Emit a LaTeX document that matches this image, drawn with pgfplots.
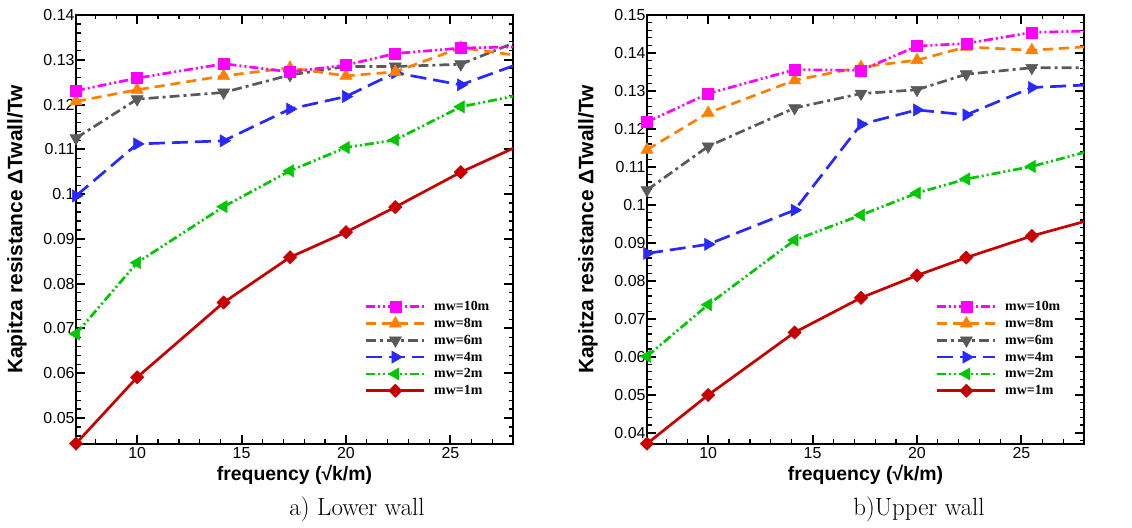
\documentclass[border=0pt]{standalone}
\usepackage{fontspec}
\usepackage{pgfplots}
\usepackage{pgfplotstable}
\pgfplotsset{compat=1.18}
\newfontfamily\arial{Liberation Sans}
\newfontfamily\tnr{Liberation Serif}

\definecolor{cmag}{RGB}{255,0,255}
\definecolor{corange}{RGB}{255,128,0}
\definecolor{cgray}{RGB}{90,90,90}
\definecolor{cblue}{RGB}{40,40,255}
\definecolor{cgreen}{RGB}{0,200,0}
\definecolor{cred}{RGB}{200,0,0}

% lower wall
\pgfplotstableread{
x     m1     m2     m4     m6     m8     m10
7.07  0.0443 0.0688 0.0996 0.1125 0.1207 0.1231
10    0.0591 0.0847 0.1112 0.1212 0.1233 0.1259
14.14 0.0758 0.0972 0.1119 0.1227 0.1264 0.1291
17.32 0.0859 0.1052 0.1190 0.1266 0.1282 0.1273
20    0.0915 0.1104 0.1218 0.1285 0.1264 0.1288
22.36 0.0971 0.1121 0.1271 0.1285 0.1273 0.1314
25.5  0.1049 0.1195 0.1244 0.1290 0.1327 0.1326
28.28 0.1108 0.1221 0.1291 0.1342 0.1309 0.1329
}\lowerwall

% upper wall
\pgfplotstableread{
x     m1     m2     m4     m6     m8     m10
7.07  0.0371 0.0601 0.0872 0.1039 0.1145 0.1218
10    0.0499 0.0737 0.0896 0.1154 0.1242 0.1293
14.14 0.0664 0.0907 0.0986 0.1255 0.1328 0.1356
17.32 0.0755 0.0973 0.1212 0.1293 0.1363 0.1354
20    0.0814 0.1031 0.1250 0.1303 0.1381 0.1418
22.36 0.0861 0.1068 0.1237 0.1344 0.1416 0.1425
25.5  0.0918 0.1101 0.1309 0.1361 0.1407 0.1454
28.28 0.0960 0.1142 0.1316 0.1361 0.1417 0.1458
}\upperwall

\pgfplotsset{
  kap/.style={
    scale only axis, width=437bp, height=429bp,
    xmin=7.07, xmax=28,
    xtick={10,15,20,25}, minor xtick={8,...,28},
    xtick pos=both, ytick pos=both, ticklabel pos=left,
    tick align=inside,
    major tick length=9bp, minor tick length=4.5bp,
    major tick style={black, line width=2bp},
    minor tick style={black, line width=1.2bp},
    axis line style={line width=1.8bp},
    tick label style={font=\arial\fontsize{16}{16}\selectfont},
    /pgf/number format/assume math mode=true,
    yticklabel style={/pgf/number format/fixed, /pgf/number format/precision=2, xshift=2bp},
    label style={font=\arial\bfseries\fontsize{19.5}{20}\selectfont},
    xlabel={frequency (√k/m)},
    ylabel={Kapitza resistance ΔTwall/Tw},
    xlabel style={at={(axis description cs:0.5,-0.072)}, anchor=center},
    ylabel style={at={(axis description cs:-0.135,0.5)}, anchor=center,
      font=\arial\bfseries\fontsize{21}{21}\selectfont},
    reverse legend, legend cell align=left,
    legend style={at={(axis description cs:0.661,0.34)}, anchor=north west,
      draw=none, fill=none, inner sep=0pt, column sep=7bp,
      font=\tnr\bfseries\fontsize{14}{14}\selectfont, row sep=0pt,
      nodes={inner sep=1.4bp, text height=11bp, text depth=3bp}},
    legend image code/.code={\draw[##1, mark indices={2}] plot coordinates {(0cm,0cm) (1.023cm,0cm) (2.046cm,0cm)};},
  },
  ln/.style={line width=2.7bp, mark indices={1,...,7}},
  s10/.style={ln, cmag, dash pattern=on 9bp off 3bp on 2bp off 3bp on 2bp off 3bp,
    mark=square*, mark size=5.5bp, mark options={solid, line width=0.5bp, fill=cmag}},
  s8/.style={ln, corange, dash pattern=on 10bp off 6bp,
    mark=triangle*, mark size=7bp, mark options={solid, line width=0.5bp, fill=corange}},
  s6/.style={ln, cgray, dash pattern=on 10bp off 4bp on 3bp off 4bp,
    mark=triangle*, mark size=7bp, mark options={solid, line width=0.5bp, fill=cgray, rotate=180}},
  s4/.style={ln, cblue, dash pattern=on 16bp off 7bp,
    mark=triangle*, mark size=7bp, mark options={solid, line width=0.5bp, fill=cblue, rotate=-90}},
  s2/.style={ln, cgreen, dash pattern=on 9bp off 3bp on 2bp off 3bp on 2bp off 3bp,
    mark=triangle*, mark size=7bp, mark options={solid, line width=0.5bp, fill=cgreen, rotate=90}},
  s1/.style={ln, cred, solid,
    mark=square*, mark size=4.7bp, mark options={solid, line width=0.5bp, fill=cred, rotate=45}},
}

\begin{document}
\begin{tikzpicture}
\useasboundingbox (0bp,0bp) rectangle (1132bp,528bp);

\begin{axis}[kap, at={(76bp,84bp)}, anchor=south west,
  ymin=0.0442, ymax=0.14,
  ytick={0.05,0.06,0.07,0.08,0.09,0.1,0.11,0.12,0.13,0.14},
  minor ytick={0.046,0.048,...,0.14}]
\addplot[s1] table[y=m1]{\lowerwall};
\addplot[s2] table[y=m2]{\lowerwall};
\addplot[s4] table[y=m4]{\lowerwall};
\addplot[s6] table[y=m6]{\lowerwall};
\addplot[s8] table[y=m8]{\lowerwall};
\addplot[s10] table[y=m10]{\lowerwall};
\legend{mw=1m, mw=2m, mw=4m, mw=6m, mw=8m, mw=10m}
\end{axis}

\begin{axis}[kap, at={(647bp,84bp)}, anchor=south west,
  ymin=0.0370, ymax=0.15,
  ytick={0.04,0.05,0.06,0.07,0.08,0.09,0.1,0.11,0.12,0.13,0.14,0.15},
  minor ytick={0.038,0.040,...,0.15}]
\addplot[s1] table[y=m1]{\upperwall};
\addplot[s2] table[y=m2]{\upperwall};
\addplot[s4] table[y=m4]{\upperwall};
\addplot[s6] table[y=m6]{\upperwall};
\addplot[s8] table[y=m8]{\upperwall};
\addplot[s10] table[y=m10]{\upperwall};
\legend{mw=1m, mw=2m, mw=4m, mw=6m, mw=8m, mw=10m}
\end{axis}

\node[anchor=base, font=\fontsize{25}{25}\selectfont] at (357bp,13bp) {a) Lower wall};
\node[anchor=base, font=\fontsize{25}{25}\selectfont] at (919bp,13bp) {b)Upper wall};
\end{tikzpicture}
\end{document}
